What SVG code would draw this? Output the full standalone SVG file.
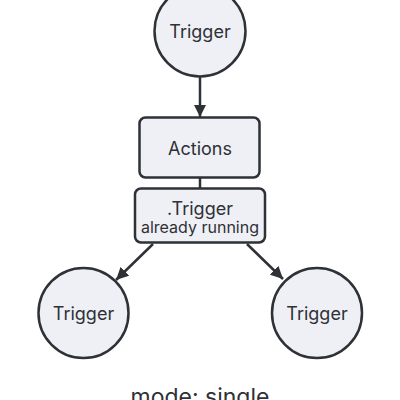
<svg xmlns="http://www.w3.org/2000/svg" width="400" height="400" viewBox="0 0 400 400">
<defs>
<style>
.node{fill:#eff0f5;stroke:#2e3136;stroke-width:2.5}
.lbl{font-family:Inter,"Liberation Sans",sans-serif;font-size:18px;fill:#2e3136;text-anchor:middle;dominant-baseline:central}
.edge{stroke:#2e3136;stroke-width:2.5;fill:none}
</style>
<marker id="arr" viewBox="0 0 10 10" refX="10" refY="5" markerWidth="5" markerHeight="5" orient="auto" markerUnits="strokeWidth">
<path d="M0,0 L10,5 L0,10 z" fill="#2e3136"/>
</marker>
</defs>
<rect width="400" height="400" fill="#ffffff"/>
<g id="connectors">
<line class="edge" x1="200" y1="77" x2="200" y2="117" marker-end="url(#arr)"/>
<line class="edge" x1="200" y1="178" x2="200" y2="188"/>
<line class="edge" x1="153" y1="244" x2="116" y2="280" marker-end="url(#arr)"/>
<line class="edge" x1="247" y1="244" x2="283" y2="279" marker-end="url(#arr)"/>
</g>
<g id="trigger-top">
<circle class="node" cx="200" cy="31" r="45.5"/>
<text class="lbl" x="200" y="31">Trigger</text>
</g>
<g id="actions">
<rect class="node" x="139.5" y="117.5" width="120" height="60" rx="6"/>
<text class="lbl" x="200" y="148">Actions</text>
</g>
<g id="already-running">
<rect class="node" x="135" y="188.5" width="130" height="54" rx="6"/>
<text class="lbl" x="200" y="208">.Trigger</text>
<text class="lbl" x="200" y="227" style="font-size:16px">already running</text>
</g>
<g id="trigger-left">
<circle class="node" cx="83.5" cy="313" r="45"/>
<text class="lbl" x="83.5" y="313">Trigger</text>
</g>
<g id="trigger-right">
<circle class="node" cx="317" cy="313" r="45"/>
<text class="lbl" x="317" y="313">Trigger</text>
</g>
<text x="200" y="405" font-family="Inter,'Liberation Sans',sans-serif" font-size="23" fill="#2e3136" text-anchor="middle">mode: single</text>
</svg>
